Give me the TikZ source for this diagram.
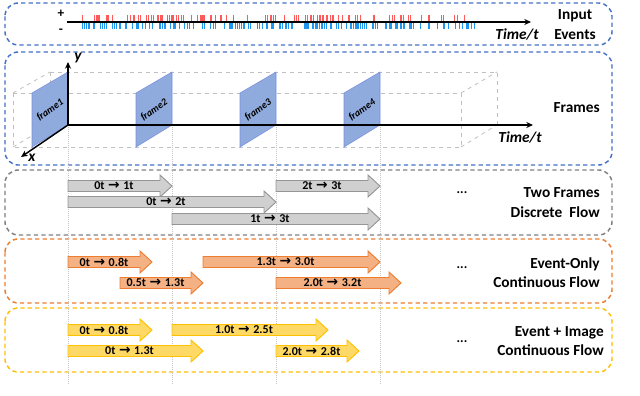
\documentclass[tikz,border=0pt]{standalone}
\usepackage{fontspec}
\usetikzlibrary{arrows.meta}
\setmainfont{Carlito}
\newfontfamily\arrfont{DejaVu Sans}
\definecolor{pblue}{RGB}{68,114,196}
\definecolor{pgray}{RGB}{128,128,128}
\definecolor{porange}{RGB}{237,125,49}
\definecolor{pyellow}{RGB}{255,192,0}
\definecolor{fgray}{RGB}{208,208,208}
\definecolor{dgray}{RGB}{150,150,150}
\definecolor{forange}{RGB}{244,177,131}
\definecolor{fyellow}{RGB}{255,217,102}
\definecolor{fblue}{RGB}{143,170,220}
\definecolor{evred}{RGB}{255,90,90}
\definecolor{evblue}{RGB}{30,150,240}
\newcommand{\ra}{\hspace{0.3em}{\arrfont\bfseries\scalebox{1.15}{→}}\hspace{0.3em}}
\newcommand{\flowarr}[6]{%
  \draw[#5] (#2,#4-5.5) -- (#3-12,#4-5.5) -- (#3-12,#4-11) -- (#3,#4) -- (#3-12,#4+11) -- (#3-12,#4+5.5) -- (#2,#4+5.5) -- cycle;
  \node[albl] (#1) at ({(#2+#3-12)/2},#4) {#6};}
\newcommand{\frameplate}[3]{%
  \draw[framefill] (#2,93) -- (#2+36,72) -- (#2+36,125) -- (#2,147) -- cycle;
  \node[flbl] (#1) at (#2+18,110) {#3};}
\tikzset{
  panel/.style={rounded corners=10, line width=1.1pt, dash pattern=on 3.2pt off 2.4pt},
  grayarr/.style={fill=fgray, draw=dgray, line width=0.7pt},
  orangearr/.style={fill=forange, draw=porange, line width=0.7pt},
  yellowarr/.style={fill=fyellow, draw=pyellow, line width=0.7pt},
  framefill/.style={fill=fblue, draw=fblue!85!blue, line width=0.4pt},
  albl/.style={font=\fontsize{9}{10}\selectfont\bfseries, inner sep=0},
  flbl/.style={font=\fontsize{7.5}{9}\selectfont\bfseries\itshape, rotate=35, inner sep=0},
  rlbl/.style={font=\fontsize{11.5}{14.5}\selectfont\bfseries, align=right, anchor=east, inner sep=0},
  tlbl/.style={font=\fontsize{11.5}{14}\selectfont\bfseries\itshape, inner sep=0},
  boxline/.style={draw=black!25, dashed, line width=0.6pt},
  guide/.style={draw=black!22, densely dotted, line width=0.5pt},
  axis/.style={line width=1.1pt, -{Stealth[length=5pt,width=4.5pt]}}
}
\begin{document}
\begin{tikzpicture}[x=0.75pt,y=-0.75pt]
\useasboundingbox (0,0) rectangle (640,396);
% panels
\draw[panel, draw=pblue] (5,3) rectangle (612,45);
\draw[panel, draw=pblue] (5,52) rectangle (612,165);
\draw[panel, draw=pgray] (5,170) rectangle (612,235);
\draw[panel, draw=porange] (5,239) rectangle (612,303);
\draw[panel, draw=pyellow] (5,308) rectangle (612,372);
% events
\pgfmathsetseed{11}
\foreach \i in {1,...,110}{
  \pgfmathsetmacro\xx{80+398*rnd}
  \draw[evred, line width=0.55pt] (\xx,15) -- (\xx,21);
}
\foreach \i in {1,...,175}{
  \pgfmathsetmacro\xx{82+396*rnd}
  \draw[evblue, line width=0.55pt] (\xx,23) -- (\xx,29);
}
\coordinate (ev0) at (67,22);
\coordinate (ev1) at (531,22);
\draw[axis] (ev0) -- (ev1);
\node[font=\fontsize{10}{12}\selectfont\bfseries] (plus) at (61,14) {+};
\node[font=\fontsize{10}{12}\selectfont\bfseries] (minus) at (61,31) {-};
\node[tlbl] (tt1) at (517,34) {Time/t};
\node[font=\fontsize{11.5}{14.5}\selectfont\bfseries, align=center, inner sep=0] (ie) at (575,24.5) {Input\\Events};
% 3D box
\draw[boxline] (13,93) rectangle (461,147);
\draw[boxline] (50,72) -- (497,72) -- (497,125);
\draw[boxline] (13,93) -- (50,72);
\draw[boxline] (461,93) -- (497,72);
\draw[boxline] (461,147) -- (497,125);
\draw[boxline] (13,147) -- (50,125);
\draw[boxline] (50,72) -- (50,125) -- (68,125);
% guides
\foreach \gx in {68,172,276,380}{
  \draw[guide] (\gx,125) -- (\gx,384);
}
% frames
\frameplate{f1}{32}{frame1}
\frameplate{f2}{136}{frame2}
\frameplate{f3}{240}{frame3}
\frameplate{f4}{344}{frame4}
% axes
\coordinate (o) at (68,125);
\coordinate (ytip) at (68,62);
\coordinate (xtip) at (21,157);
\coordinate (ttip) at (533,125);
\draw[axis] (o) -- (ytip);
\draw[axis] (o) -- (xtip);
\draw[axis] (o) -- (ttip);
\node[tlbl] (ylab) at (78,58) {y};
\node[tlbl] (xlab) at (32,158) {x};
\node[tlbl] (tt2) at (520,137) {Time/t};
\node[rlbl] (fr) at (600,108) {Frames};
% gray flows
\flowarr{g1}{68}{172}{186}{grayarr}{0t\ra1t}
\flowarr{g2}{276}{380}{186}{grayarr}{2t\ra3t}
\flowarr{g3}{68}{276}{202}{grayarr}{0t\ra2t}
\flowarr{g4}{172}{380}{219}{grayarr}{1t\ra3t}
\node[font=\bfseries] (d1) at (462,193) {...};
\node[rlbl] (l1) at (600,202.5) {Two Frames\\Discrete\ \ Flow};
% orange flows
\flowarr{o1}{68}{152}{262}{orangearr}{0t\ra0.8t}
\flowarr{o2}{120}{203}{283}{orangearr}{0.5t\ra1.3t}
\flowarr{o3}{203}{380}{262}{orangearr}{1.3t\ra3.0t}
\flowarr{o4}{276}{401}{283}{orangearr}{2.0t\ra3.2t}
\node[font=\bfseries] (d2) at (462,268) {...};
\node[rlbl] (l2) at (600,272.5) {Event-Only\\Continuous Flow};
% yellow flows
\flowarr{y1}{68}{152}{330}{yellowarr}{0t\ra0.8t}
\flowarr{y2}{172}{328}{330}{yellowarr}{1.0t\ra2.5t}
\flowarr{y3}{68}{203}{351}{yellowarr}{0t\ra1.3t}
\flowarr{y4}{276}{359}{351}{yellowarr}{2.0t\ra2.8t}
\node[font=\bfseries] (d3) at (462,342) {...};
\node[rlbl] (l3) at (604,341) {Event + Image\\Continuous Flow};
\end{tikzpicture}
\end{document}
